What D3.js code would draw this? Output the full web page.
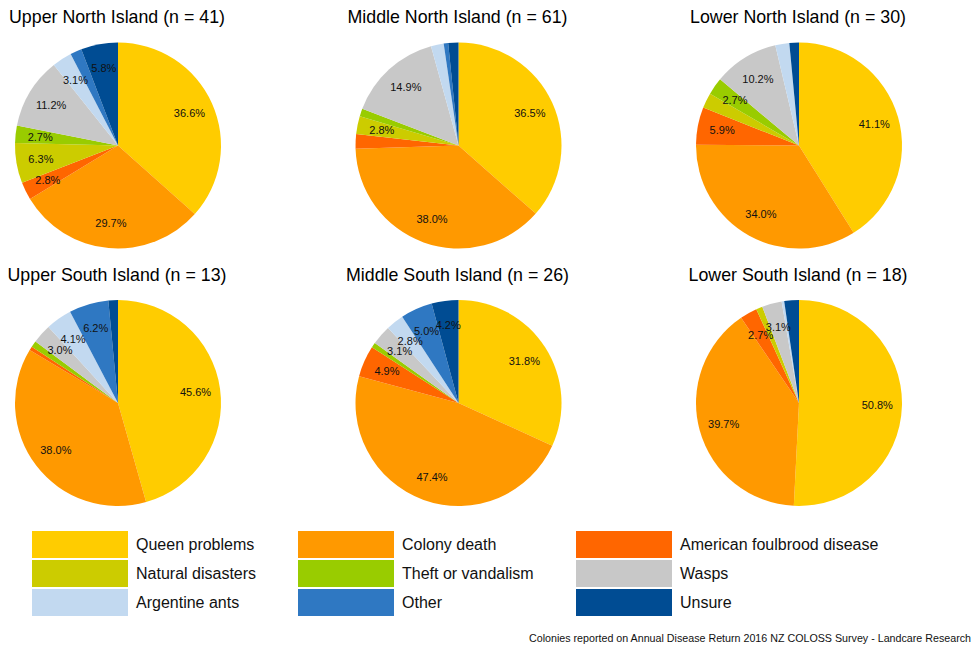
<!DOCTYPE html>
<html><head><meta charset="utf-8">
<script src="https://cdn.jsdelivr.net/npm/d3@7"></script>
<style>
html,body{margin:0;padding:0;background:#fff;}
svg{display:block;font-family:"Liberation Sans",Arial,sans-serif;}
</style></head>
<body><svg id="c" width="973" height="648"></svg>
<script>
const categories = ["Queen problems","Colony death","American foulbrood disease","Natural disasters","Theft or vandalism","Wasps","Argentine ants","Other","Unsure"];
const colors = ["#FFCC00","#FF9900","#FF6600","#CCCC00","#99CC00","#C8C8C8","#C2D9F0","#2F78C2","#004C93"];
const regions = ["Upper North Island (n = 41)","Middle North Island (n = 61)","Lower North Island (n = 30)","Upper South Island (n = 13)","Middle South Island (n = 26)","Lower South Island (n = 18)"];
const upperNorth  = [36.6,29.7,2.8,6.3,2.7,11.2,3.1,1.8,5.8];
const middleNorth = [36.5,38.0,2.3,2.8,1.2,14.9,2.0,0.7,1.6];
const lowerNorth  = [41.1,34.0,5.9,2.4,2.7,10.2,2.2,0.0,1.5];
const upperSouth  = [45.6,38.0,0.6,0.0,1.0,3.0,4.1,6.2,1.5];
const middleSouth = [31.8,47.4,4.9,0.0,0.8,3.1,2.8,5.0,4.2];
const lowerSouth  = [50.8,39.7,2.7,1.0,0.0,3.1,0.4,0.0,2.3];
const seriesValues = [upperNorth,middleNorth,lowerNorth,upperSouth,middleSouth,lowerSouth];
const footnote = "Colonies reported on Annual Disease Return 2016 NZ COLOSS Survey - Landcare Research";

const svg = d3.select("#c");
const colX = d3.scalePoint().domain([0,1,2]).range([118,799]);
const rowY = d3.scalePoint().domain([0,1]).range([145.5,403]);
const R = 103;
const color = d3.scaleOrdinal().domain(categories).range(colors);
const pie = d3.pie().sort(null).value(d=>d.v);
const arc = d3.arc().innerRadius(0).outerRadius(R);
const labelArc = d3.arc().innerRadius(R*0.76).outerRadius(R*0.76);

regions.forEach((name,i)=>{
  const cx = colX(i%3), cy = rowY(Math.floor(i/3));
  const g = svg.append("g").attr("transform",`translate(${cx},${cy})`);
  const data = categories.map((c,j)=>({c, v: seriesValues[i][j]}));
  const arcs = pie(data);
  g.selectAll("path").data(arcs).join("path")
    .attr("d",arc).attr("fill",d=>color(d.data.c));
  g.selectAll("text").data(arcs.filter(d=>d.data.v>=2.5)).join("text")
    .attr("transform",d=>`translate(${labelArc.centroid(d)})`)
    .attr("text-anchor","middle").attr("dy","0.35em")
    .attr("font-size",11).attr("fill","#111")
    .text(d=>d.data.v.toFixed(1)+"%");
  svg.append("text").attr("x",cx-1).attr("y",cy-R-19.5)
    .attr("text-anchor","middle").attr("font-size",17.8).attr("fill","#000")
    .text(name);
});

// legend
const legX = d3.scaleOrdinal().domain([0,1,2]).range([32,298,576]);
const legY = d3.scalePoint().domain([0,1,2]).range([531,589]);
const lg = svg.append("g");
categories.forEach((c,j)=>{
  const x = legX(j%3), y = legY(Math.floor(j/3));
  lg.append("rect").attr("x",x).attr("y",y).attr("width",96).attr("height",27).attr("fill",color(c));
  lg.append("text").attr("x",x+104).attr("y",y+13.5).attr("dy","0.35em")
    .attr("font-size",16).attr("fill","#111").text(c);
});

svg.append("text").attr("x",971).attr("y",642).attr("text-anchor","end")
  .attr("font-size",10.7).attr("fill","#111").text(footnote);
</script></body></html>
